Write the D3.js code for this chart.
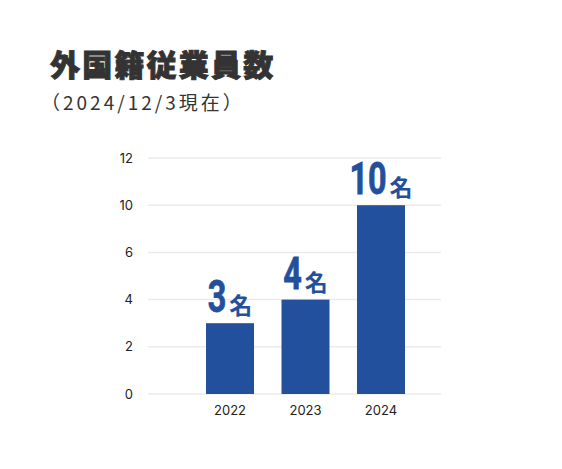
<!DOCTYPE html>
<html><head><meta charset="utf-8">
<script src="https://cdn.jsdelivr.net/npm/d3@7"></script>
<style>
html,body{margin:0;padding:0;background:#fff;}
svg{display:block;}
</style></head>
<body>
<svg id="chart" width="562" height="469"></svg>
<script>
const title = "外国籍従業員数";
const subtitle = "（2024/12/3現在）";
const categories = ["2022", "2023", "2024"];
const values = [3, 4, 10];
const unit = "名";
const yTickLabels = [0, 2, 4, 6, 10, 12];

const svg = d3.select("#chart");
const blue = "#23509c";

svg.append("text").attr("x", 50).attr("y", 76)
  .attr("font-family", "'Noto Sans CJK JP', sans-serif")
  .attr("font-weight", 900).attr("font-size", 30).attr("fill", "#333")
  .attr("stroke", "#333").attr("stroke-width", 0.9).attr("paint-order", "stroke")
  .attr("letter-spacing", 2.2)
  .text(title);

svg.append("text").attr("x", 41).attr("y", 110)
  .attr("font-family", "'Noto Sans CJK JP', sans-serif")
  .attr("font-weight", 400).attr("font-size", 19).attr("fill", "#333")
  .attr("letter-spacing", 3)
  .text(subtitle);

// y: labelled gridlines equally spaced (as in the reference)
const yIndex = d3.scaleLinear().domain([0, yTickLabels.length - 1]).range([394, 158]);
const y = d3.scaleLinear().domain(yTickLabels).range(yTickLabels.map((_, i) => yIndex(i)));

const x = d3.scaleBand().domain(categories).range([170, 441]).paddingInner(0.364).paddingOuter(0.477);

const yAxis = d3.axisLeft(y).tickValues(yTickLabels).tickSize(0).tickPadding(15).tickFormat(d => d);
const gy = svg.append("g").attr("transform", "translate(148,0)").call(yAxis);
gy.select(".domain").remove();
gy.selectAll("text").attr("font-family", "Inter, 'Noto Sans', sans-serif").attr("font-size", 13).attr("fill", "#222");

svg.append("g").selectAll("line").data(yTickLabels).join("line")
  .attr("x1", 148).attr("x2", 441)
  .attr("y1", d => y(d)).attr("y2", d => y(d))
  .attr("stroke", "#ebebeb").attr("stroke-width", 1.5);

const xAxis = d3.axisBottom(x).tickSize(0).tickPadding(12);
const gx = svg.append("g").attr("transform", "translate(0,394)").call(xAxis);
gx.select(".domain").remove();
gx.selectAll("text").attr("font-family", "Inter, 'Noto Sans', sans-serif").attr("font-size", 13).attr("fill", "#222");

svg.append("g").selectAll("rect").data(values).join("rect")
  .attr("x", (d, i) => x(categories[i]))
  .attr("y", d => y(d))
  .attr("width", x.bandwidth())
  .attr("height", d => y(0) - y(d))
  .attr("fill", blue);

const sx = 0.72;
values.forEach((v, i) => {
  const g = svg.append("g")
    .attr("transform", `translate(${x(categories[i]) + x.bandwidth() / 2},${y(v) - 11})`);
  const num = g.append("text")
    .attr("font-family", "Roboto, 'Noto Sans', sans-serif")
    .attr("font-weight", 700).attr("font-size", 45).attr("fill", blue)
    .attr("stroke", blue).attr("stroke-width", 0.8)
    .text(v);
  const u = g.append("text")
    .attr("font-family", "'Noto Sans CJK JP', sans-serif")
    .attr("font-weight", 700).attr("font-size", 23).attr("fill", blue)
    .attr("dy", 2)
    .text(unit);
  const nw = num.node().getComputedTextLength() * sx;
  const uw = u.node().getComputedTextLength();
  const gap = 3;
  const total = nw + gap + uw;
  num.attr("transform", `translate(${-total / 2},0) scale(${sx},1)`);
  u.attr("x", -total / 2 + nw + gap);
});
</script>
</body></html>
